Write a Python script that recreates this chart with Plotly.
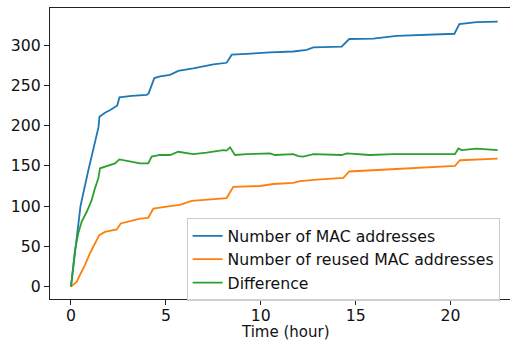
import plotly.graph_objects as go

# Cumulative counts over time (hours)
t_total = [0, 0.3, 0.5, 0.9, 1.2, 1.45, 1.5, 1.79, 2.05, 2.44, 2.55, 3.2, 3.99, 4.09, 4.39,
           4.69, 5.22, 5.65, 6.44, 7.5, 8.2, 8.47, 9.26, 10.48, 11.71, 12.42, 12.77,
           14.26, 14.66, 15.93, 17.16, 19.09, 19.44, 20.2, 20.46, 21.37, 22.48]
n_total = [0, 62, 100, 143, 175, 198, 211, 216, 219, 225, 235, 237, 238, 240, 259,
           261, 263, 268, 271, 276, 278, 288, 289, 291, 292, 294, 297,
           298, 307.5, 308, 311.5, 312.5, 313, 314, 326, 328.5, 329]

t_reused = [0, 0.3, 0.47, 0.74, 1.0, 1.26, 1.49, 1.79, 2.41, 2.62, 3.1, 3.64, 4.07, 4.34,
            5.22, 5.74, 6.36, 7.32, 8.2, 8.55, 9.96, 10.66, 11.71, 12.07, 12.95, 14.35,
            14.66, 16.63, 18.74, 20.23, 20.5, 22.48]
n_reused = [0, 6, 14.5, 27, 41.5, 54, 64, 68, 71, 78.5, 81.5, 84.5, 85.5, 97,
            100, 101.5, 106.5, 108.5, 110, 124, 125, 127.5, 129, 131, 133, 135,
            143, 145.5, 148, 150, 157, 159]

t_diff = [0, 0.21, 0.38, 0.56, 0.83, 1.09, 1.26, 1.44, 1.53, 1.88, 2.32, 2.55, 3.1, 3.64,
          4.07, 4.25, 4.69, 5.22, 5.65, 6.44, 7.15, 8.02, 8.2, 8.38, 8.64, 9.26, 10.48,
          10.75, 11.71, 11.98, 12.24, 12.77, 14.26, 14.53, 15.75, 16.98, 18.74, 20.23,
          20.41, 20.58, 21.37, 22.48]
n_diff = [0, 45.5, 66, 80.5, 93, 107.5, 122, 134.5, 147, 150, 153, 158, 155, 153,
          153, 161.5, 163.5, 163.5, 167.5, 164.5, 166.5, 169.5, 169, 173, 163.5, 164.5, 165.5,
          163.5, 164.5, 162, 161.5, 164.5, 163.5, 165.5, 163.5, 164.5, 164.5, 164.5,
          171.5, 169.5, 171.5, 169.5]

x_ticks = [0, 5, 10, 15, 20]
y_ticks = [0, 50, 100, 150, 200, 250, 300]

FONT = "DejaVu Sans"
FS = 15.7

fig = go.Figure()
fig.add_trace(go.Scatter(x=t_total, y=n_total, mode="lines", name="Number of MAC addresses",
                         line=dict(color="#1f77b4", width=1.8)))
fig.add_trace(go.Scatter(x=t_reused, y=n_reused, mode="lines", name="Number of reused MAC addresses",
                         line=dict(color="#ff7f0e", width=1.8)))
fig.add_trace(go.Scatter(x=t_diff, y=n_diff, mode="lines", name="Difference",
                         line=dict(color="#2ca02c", width=1.8)))

axis_common = dict(showgrid=False, zeroline=False, showline=True, linecolor="#222",
                   linewidth=1.2, ticks="outside", ticklen=5, tickwidth=1.2, tickcolor="#222",
                   tickfont=dict(family=FONT, size=FS, color="#111"))

fig.update_xaxes(range=[-1.106, 23.13], tickvals=x_ticks, mirror=True,
                 ticklabelstandoff=-3, **axis_common)
fig.update_yaxes(range=[-15.3, 346], tickvals=y_ticks, **axis_common)

# Axis title placed as an annotation so it centres on the full axes span
fig.add_annotation(text="Time (hour)", xref="paper", yref="paper", x=0.511, y=-0.1478,
                   xanchor="center", yanchor="bottom", showarrow=False, borderpad=0,
                   font=dict(family=FONT, size=15, color="#111"))

fig.update_layout(
    width=510, height=342,
    margin=dict(l=50, r=0, t=8, b=43),
    paper_bgcolor="white", plot_bgcolor="white",
    showlegend=True,
    legend=dict(x=0.297, y=0.278, xanchor="left", yanchor="top",
                bgcolor="rgba(255,255,255,0.8)", bordercolor="#cccccc", borderwidth=1,
                font=dict(family=FONT, size=FS, color="#111"),
                tracegroupgap=0, itemwidth=30),
    font=dict(family=FONT, size=FS),
)

fig.write_html("out.html")
